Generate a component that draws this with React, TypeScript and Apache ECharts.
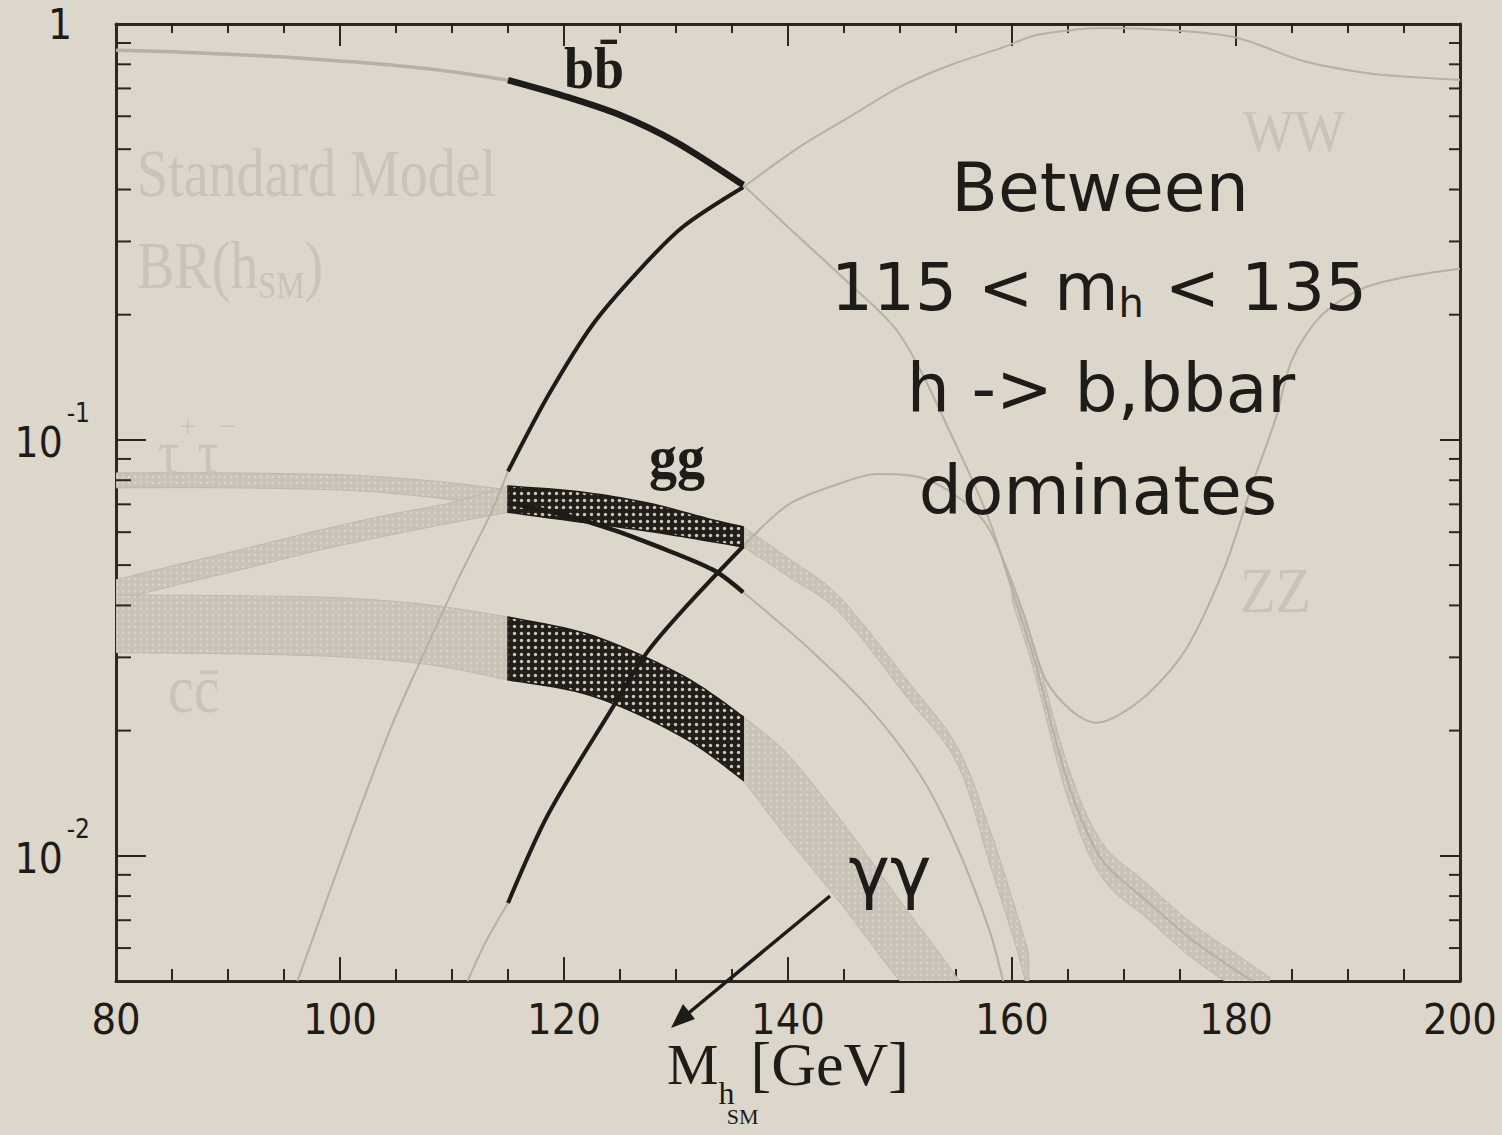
import React, { useEffect, useRef } from 'react';
import * as echarts from 'echarts';

// ---- axes ----
const X_MIN = 80;
const X_MAX = 200;
const X_STEP = 20;
const Y_MIN = 0.005;
const Y_MAX = 1;
const yMinorTicks = [0.006, 0.007, 0.008, 0.009, 0.02, 0.03, 0.04, 0.05, 0.06, 0.07, 0.08, 0.09, 0.2, 0.3, 0.4, 0.5, 0.6, 0.7, 0.8, 0.9];

// ---- h -> b bbar ----
const bbLeftX = [80, 85, 90, 95, 100, 105, 110, 115];
const bbLeftY = [0.865, 0.857, 0.846, 0.833, 0.815, 0.795, 0.768, 0.733];
const bbDarkX = [115, 120, 125, 130, 136];
const bbDarkY = [0.733, 0.671, 0.604, 0.52, 0.41];
const bbRightX = [136, 140, 145, 150, 155, 158, 160, 162, 165, 168, 172, 176, 180, 181.5];
const bbRightY = [0.41, 0.325, 0.244, 0.179, 0.0973, 0.0638, 0.0436, 0.0296, 0.015, 0.0098, 0.0078, 0.0063, 0.0053, 0.005];
const bbBandX = [160, 162, 165, 168, 172, 176, 180, 183];
const bbBandHi = [0.046, 0.0318, 0.0164, 0.0108, 0.0086, 0.0069, 0.0058, 0.0051];
const bbBandLo = [0.041, 0.0276, 0.0137, 0.0089, 0.0071, 0.0057, 0.0048, 0.0043];

// ---- h -> WW ----
const wwLeftX = [96.2, 98, 101, 104.6, 107.4, 110.6, 113.4, 115];
const wwLeftY = [0.005, 0.0068, 0.0114, 0.0205, 0.0303, 0.0466, 0.066, 0.084];
const wwDarkX = [115, 118.6, 122.6, 126.6, 130.6, 136];
const wwDarkY = [0.084, 0.128, 0.19, 0.254, 0.325, 0.405];
const wwRightX = [136, 141, 145.5, 150, 154.5, 159, 162, 165, 168, 174, 180, 186, 192, 196, 200];
const wwRightY = [0.405, 0.506, 0.598, 0.706, 0.797, 0.875, 0.938, 0.965, 0.978, 0.967, 0.928, 0.815, 0.76, 0.745, 0.733];

// ---- h -> ZZ ----
const zzLeftX = [111.4, 113, 115];
const zzLeftY = [0.005, 0.0062, 0.0077];
const zzDarkX = [115, 118.6, 124.2, 127.4, 131, 136];
const zzDarkY = [0.0077, 0.0126, 0.0224, 0.0308, 0.04, 0.0555];
const zzRightX = [136, 140, 144, 148, 152, 155.5, 158, 161, 163, 165.5, 167.5, 171.5, 175.5, 179, 181.5, 183.5, 185, 187.5, 191, 195, 200];
const zzRightY = [0.0555, 0.0698, 0.0775, 0.0828, 0.081, 0.0718, 0.0608, 0.0384, 0.0265, 0.0221, 0.0209, 0.0237, 0.0313, 0.0495, 0.0788, 0.1117, 0.1557, 0.1976, 0.2295, 0.246, 0.258];

// ---- h -> gg (band) ----
const ggLeftX = [80, 86, 92, 98, 104, 110, 115];
const ggLeftHi = [0.0461, 0.0505, 0.0552, 0.0605, 0.0658, 0.0707, 0.0775];
const ggLeftLo = [0.0412, 0.0452, 0.0494, 0.0542, 0.0587, 0.0632, 0.067];
const ggDarkX = [115, 121.4, 127.4, 133.3, 136];
const ggDarkHi = [0.0775, 0.075, 0.0706, 0.0642, 0.0618];
const ggDarkLo = [0.067, 0.0635, 0.0604, 0.0569, 0.0553];
const ggRightX = [136, 140, 144.6, 150.6, 155.1, 158, 160.4, 161.5];
const ggRightHi = [0.0618, 0.052, 0.0419, 0.0265, 0.0183, 0.0116, 0.0073, 0.0058];
const ggRightLo = [0.0553, 0.047, 0.0384, 0.0241, 0.0167, 0.0096, 0.006, 0.0046];

// ---- h -> tau tau ----
const tauLeftX = [80, 90, 100, 105, 110, 115];
const tauLeftHi = [0.0833, 0.0833, 0.0824, 0.081, 0.0788, 0.0758];
const tauLeftLo = [0.0767, 0.0767, 0.0758, 0.0742, 0.0718, 0.0687];
const tauDarkX = [115, 120, 124.4, 128, 133.3, 136];
const tauDarkY = [0.0706, 0.066, 0.0608, 0.0559, 0.0487, 0.043];
const tauRightX = [136, 141.7, 147.6, 152.1, 155.1, 158, 159.2];
const tauRightY = [0.043, 0.0318, 0.0221, 0.0152, 0.0105, 0.0066, 0.005];

// ---- h -> c cbar (band) ----
const ccLeftX = [80, 90, 100, 108, 115];
const ccLeftHi = [0.0424, 0.0422, 0.0417, 0.0401, 0.0375];
const ccLeftLo = [0.0308, 0.0306, 0.0301, 0.0288, 0.0265];
const ccDarkX = [115, 122.6, 130.6, 136];
const ccDarkHi = [0.0375, 0.0338, 0.0271, 0.0216];
const ccDarkLo = [0.0265, 0.0242, 0.0193, 0.0152];
const ccRightX = [136, 140, 145, 150, 154, 156.5];
const ccRightHi = [0.0216, 0.0175, 0.0119, 0.0078, 0.0056, 0.0045];
const ccRightLo = [0.0152, 0.011, 0.0075, 0.005, 0.0039, 0.0033];

// ---- colours & fonts ----
const BG = '#dcd6cb';
const INK = '#1e1c18';
const AXIS = '#2b2822';
const FAINT_LINE = '#b6b0a5';
const FAINT_TEXT = '#cac3b7';
const FONT_AXIS = "'Liberation Sans Narrow', 'DejaVu Sans Condensed', 'Liberation Sans', sans-serif";
const FONT_SERIF = "'Liberation Serif', 'DejaVu Serif', serif";
const FONT_NOTE = "'Comic Sans MS', 'DejaVu Sans', sans-serif";

function dotPattern(bg: string, dot: string, size: number, r: number) {
  const c = document.createElement('canvas');
  c.width = size;
  c.height = size;
  const g = c.getContext('2d')!;
  g.fillStyle = bg;
  g.fillRect(0, 0, size, size);
  g.fillStyle = dot;
  g.beginPath();
  g.arc(size / 2, size / 2, r, 0, Math.PI * 2);
  g.fill();
  return { image: c, repeat: 'repeat' };
}

// Catmull-Rom densification of a pixel polyline, so band edges bend smoothly
function spline(pts: number[][], seg = 10): number[][] {
  if (pts.length < 3) return pts;
  const out: number[][] = [];
  for (let i = 0; i < pts.length - 1; i++) {
    const p0 = pts[Math.max(i - 1, 0)];
    const p1 = pts[i];
    const p2 = pts[i + 1];
    const p3 = pts[Math.min(i + 2, pts.length - 1)];
    for (let t = 0; t < seg; t++) {
      const s = t / seg;
      const s2 = s * s;
      const s3 = s2 * s;
      out.push([0, 1].map(
        (k) => 0.5 * (2 * p1[k] + (-p0[k] + p2[k]) * s + (2 * p0[k] - 5 * p1[k] + 4 * p2[k] - p3[k]) * s2 + (-p0[k] + 3 * p1[k] - 3 * p2[k] + p3[k]) * s3)
      ));
    }
  }
  out.push(pts[pts.length - 1]);
  return out;
}

function bandSeries(id: string, xs: number[], lo: number[], hi: number[], fill: any, stroke: string, lineWidth: number, z: number) {
  return {
    type: 'custom',
    id,
    z,
    silent: true,
    data: xs.map((x, i) => [x, lo[i], hi[i]]),
    encode: { x: 0, y: [1, 2] },
    renderItem: (params: any, api: any) => {
      if (params.dataIndex !== 0) return null;
      const top = xs.map((x, i) => api.coord([x, hi[i]]));
      const bot = xs.map((x, i) => api.coord([x, lo[i]]));
      const pts = spline(top).concat(spline(bot).reverse());
      const cs = params.coordSys;
      return {
        type: 'group',
        clipPath: { type: 'rect', shape: { x: cs.x, y: cs.y, width: cs.width, height: cs.height } },
        children: [{ type: 'polygon', shape: { points: pts }, style: { fill, stroke, lineWidth } }],
      };
    },
  };
}

function lineSeries(id: string, xs: number[], ys: number[], color: string, width: number, z: number) {
  return {
    type: 'line',
    id,
    z,
    silent: true,
    data: xs.map((x, i) => [x, ys[i]]),
    symbol: 'none',
    smooth: 0.3,
    clip: true,
    lineStyle: { color, width },
  };
}

function yLabel(v: number) {
  const e = Math.log10(v);
  const r = Math.round(e);
  if (Math.abs(e - r) > 1e-6) return '';
  if (r === 0) return '{one|1}';
  return `{b|10}{s|${r}}`;
}

export default function App() {
  const ref = useRef<HTMLDivElement>(null);

  useEffect(() => {
    const chart = echarts.init(ref.current!, null, { renderer: 'svg', width: 1502, height: 1135 });
    const darkFill = dotPattern('#221f1a', '#cdc6b9', 7, 1.7);
    const lightFill = dotPattern('#c8c2b7', '#d8d2c7', 6, 1.4);
    const lightStroke = '#bdb7ac';

    const axisLine = { show: true, onZero: false, lineStyle: { color: AXIS, width: 3 } };
    const tickStyle = { color: AXIS, width: 2 };

    const option: any = {
      animation: false,
      backgroundColor: BG,
      grid: { left: 116, right: 42, top: 24, bottom: 154, containLabel: false, outerBoundsMode: 'none' },
      xAxis: [
        {
          type: 'value', min: X_MIN, max: X_MAX, interval: X_STEP, position: 'bottom',
          axisLine, splitLine: { show: false },
          axisTick: { inside: true, length: 24, lineStyle: tickStyle },
          minorTick: { show: true, splitNumber: 4, length: 12, lineStyle: tickStyle },
          axisLabel: { margin: 16, fontSize: 43, fontFamily: FONT_AXIS, color: INK },
        },
        {
          type: 'value', min: X_MIN, max: X_MAX, interval: X_STEP, position: 'top',
          axisLine, splitLine: { show: false },
          axisTick: { inside: true, length: 22, lineStyle: tickStyle },
          minorTick: { show: true, splitNumber: 4, length: 9, lineStyle: tickStyle },
          axisLabel: { show: false },
        },
      ],
      yAxis: [
        {
          type: 'log', logBase: 10, min: Y_MIN, max: Y_MAX, position: 'left',
          axisLine, splitLine: { show: false },
          axisTick: { inside: true, length: 30, lineStyle: tickStyle },
          axisLabel: {
            margin: 26, showMinLabel: false, formatter: yLabel,
            rich: {
              one: { fontSize: 42, fontFamily: FONT_AXIS, color: INK, padding: [0, 18, 0, 0] },
              b: { fontSize: 42, fontFamily: FONT_AXIS, color: INK, padding: [30, 4, 24, 0] },
              s: { fontSize: 26, fontFamily: FONT_AXIS, color: INK, padding: [8, 0, 0, 0], verticalAlign: 'top' },
            },
          },
        },
        {
          type: 'log', logBase: 10, min: Y_MIN, max: Y_MAX, position: 'right',
          axisLine, splitLine: { show: false },
          axisTick: { inside: true, length: 20, lineStyle: tickStyle },
          axisLabel: { show: false },
        },
      ],
      series: [
        // full-range curves, faint
        bandSeries('tauLeft', tauLeftX, tauLeftLo, tauLeftHi, lightFill, lightStroke, 1, 1),
        bandSeries('ggLeft', ggLeftX, ggLeftLo, ggLeftHi, lightFill, lightStroke, 1, 1),
        bandSeries('ccLeft', ccLeftX, ccLeftLo, ccLeftHi, lightFill, lightStroke, 1, 1),
        bandSeries('ggRight', ggRightX, ggRightLo, ggRightHi, lightFill, lightStroke, 1, 1),
        bandSeries('ccRight', ccRightX, ccRightLo, ccRightHi, lightFill, lightStroke, 1, 1),
        bandSeries('bbBand', bbBandX, bbBandLo, bbBandHi, lightFill, lightStroke, 1, 1),
        lineSeries('bbLeft', bbLeftX, bbLeftY, FAINT_LINE, 3.5, 2),
        lineSeries('bbRight', bbRightX, bbRightY, FAINT_LINE, 2, 2),
        lineSeries('wwLeft', wwLeftX, wwLeftY, FAINT_LINE, 2, 2),
        lineSeries('wwRight', wwRightX, wwRightY, FAINT_LINE, 2, 2),
        lineSeries('zzLeft', zzLeftX, zzLeftY, FAINT_LINE, 2, 2),
        lineSeries('zzRight', zzRightX, zzRightY, FAINT_LINE, 2, 2),
        lineSeries('tauRight', tauRightX, tauRightY, FAINT_LINE, 2, 2),
        // 115-135 GeV window, dark
        bandSeries('ggDark', ggDarkX, ggDarkLo, ggDarkHi, darkFill, INK, 1.5, 3),
        bandSeries('ccDark', ccDarkX, ccDarkLo, ccDarkHi, darkFill, INK, 1.5, 3),
        lineSeries('bbDark', bbDarkX, bbDarkY, INK, 6.5, 4),
        lineSeries('wwDark', wwDarkX, wwDarkY, INK, 4, 4),
        lineSeries('zzDark', zzDarkX, zzDarkY, INK, 4, 4),
        lineSeries('tauDark', tauDarkX, tauDarkY, INK, 4.5, 4),
        // minor log ticks on both vertical frame edges
        {
          type: 'custom', id: 'yMinor', z: 6, silent: true,
          data: yMinorTicks.map((v) => [X_MIN, v]),
          encode: { x: 0, y: 1 },
          renderItem: (params: any, api: any) => {
            const v = api.value(1);
            const [lx, py] = api.coord([X_MIN, v]);
            const [rx] = api.coord([X_MAX, v]);
            return {
              type: 'group',
              children: [
                { type: 'line', shape: { x1: lx, y1: py, x2: lx + 15, y2: py }, style: { stroke: AXIS, lineWidth: 2 } },
                { type: 'line', shape: { x1: rx - 11, y1: py, x2: rx, y2: py }, style: { stroke: AXIS, lineWidth: 2 } },
              ],
            };
          },
        },
      ],
      graphic: [
        // x-axis title, M with a nested subscript h_SM
        { type: 'text', x: 788, y: 1064, z: 10, silent: true,
          style: {
            text: '{m|M}{h|h}{sm|SM}{g|[GeV]}', align: 'center', verticalAlign: 'middle',
            rich: {
              m: { fontSize: 58, fontFamily: FONT_SERIF, fill: INK },
              h: { fontSize: 32, fontFamily: FONT_SERIF, fill: INK, padding: [58, 0, 0, 0] },
              sm: { fontSize: 22, fontFamily: FONT_SERIF, fill: INK, padding: [104, 0, 0, 0], width: 16 },
              g: { fontSize: 62, fontFamily: FONT_SERIF, fill: INK },
            },
          } },
        { type: 'text', x: 137, y: 173, scaleY: 1.2, z: 10, silent: true,
          style: { text: 'Standard Model', fontSize: 56, fontFamily: FONT_SERIF, fill: FAINT_TEXT, align: 'left', verticalAlign: 'middle' } },
        { type: 'text', x: 137, y: 265, scaleY: 1.2, z: 10, silent: true,
          style: {
            text: '{n|BR(h}{s|SM}{n|)}', align: 'left', verticalAlign: 'middle',
            rich: {
              n: { fontSize: 56, fontFamily: FONT_SERIF, fill: FAINT_TEXT },
              s: { fontSize: 32, fontFamily: FONT_SERIF, fill: FAINT_TEXT, padding: [34, 0, 0, 0] },
            },
          } },
        { type: 'text', x: 158, y: 452, scaleY: 1.15, z: 10, silent: true,
          style: {
            text: '{t|τ}{p|+}{t|τ}{p|−}', align: 'left', verticalAlign: 'middle',
            rich: {
              t: { fontSize: 54, fontFamily: FONT_SERIF, fill: FAINT_TEXT },
              p: { fontSize: 28, fontFamily: FONT_SERIF, fill: FAINT_TEXT, padding: [0, 2, 44, 0] },
            },
          } },
        { type: 'text', x: 168, y: 690, scaleY: 1.15, z: 10, silent: true,
          style: { text: 'cc̄', fontSize: 58, fontFamily: FONT_SERIF, fill: FAINT_TEXT, align: 'left', verticalAlign: 'middle' } },
        { type: 'text', x: 1243, y: 131, scaleY: 1.1, z: 10, silent: true,
          style: { text: 'WW', fontSize: 54, fontFamily: FONT_SERIF, fill: FAINT_TEXT, align: 'left', verticalAlign: 'middle' } },
        { type: 'text', x: 1240, y: 591, scaleY: 1.1, z: 10, silent: true,
          style: { text: 'ZZ', fontSize: 58, fontFamily: FONT_SERIF, fill: FAINT_TEXT, align: 'left', verticalAlign: 'middle' } },
        { type: 'text', x: 564, y: 68, scaleY: 1.1, z: 10, silent: true,
          style: { text: 'bb̄', fontSize: 54, fontWeight: 'bold', fontFamily: FONT_SERIF, fill: INK, align: 'left', verticalAlign: 'middle' } },
        { type: 'text', x: 649, y: 458, scaleY: 1.1, z: 10, silent: true,
          style: { text: 'gg', fontSize: 56, fontWeight: 'bold', fontFamily: FONT_SERIF, fill: INK, align: 'left', verticalAlign: 'middle' } },
        { type: 'text', x: 1100, y: 187, z: 10, silent: true,
          style: { text: 'Between', fontSize: 68, fontFamily: FONT_NOTE, fill: INK, align: 'center', verticalAlign: 'middle' } },
        { type: 'text', x: 1099, y: 287, z: 10, silent: true,
          style: {
            text: '115 < m{h|h} < 135', fontSize: 66, fontFamily: FONT_NOTE, fill: INK, align: 'center', verticalAlign: 'middle',
            rich: { h: { fontSize: 40, fontFamily: FONT_NOTE, fill: INK, padding: [32, 0, 0, 0] } },
          } },
        { type: 'text', x: 1101, y: 388, z: 10, silent: true,
          style: { text: 'h -> b,bbar', fontSize: 68, fontFamily: FONT_NOTE, fill: INK, align: 'center', verticalAlign: 'middle' } },
        { type: 'text', x: 1098, y: 490, z: 10, silent: true,
          style: { text: 'dominates', fontSize: 68, fontFamily: FONT_NOTE, fill: INK, align: 'center', verticalAlign: 'middle' } },
        { type: 'text', x: 890, y: 872, z: 10, silent: true,
          style: { text: 'γγ', fontSize: 70, fontFamily: FONT_NOTE, fill: INK, align: 'center', verticalAlign: 'middle' } },
        { type: 'line', z: 10, silent: true,
          shape: { x1: 830, y1: 896, x2: 685, y2: 1016 }, style: { stroke: INK, lineWidth: 3.5 } },
        { type: 'polygon', z: 10, silent: true,
          shape: { points: [[671, 1028], [695, 1019], [683, 1004]] }, style: { fill: INK } },
      ],
    };

    chart.setOption(option);
    return () => chart.dispose();
  }, []);

  return <div ref={ref} style={{ position: 'fixed', left: 0, top: 0, width: 1502, height: 1135 }} />;
}
